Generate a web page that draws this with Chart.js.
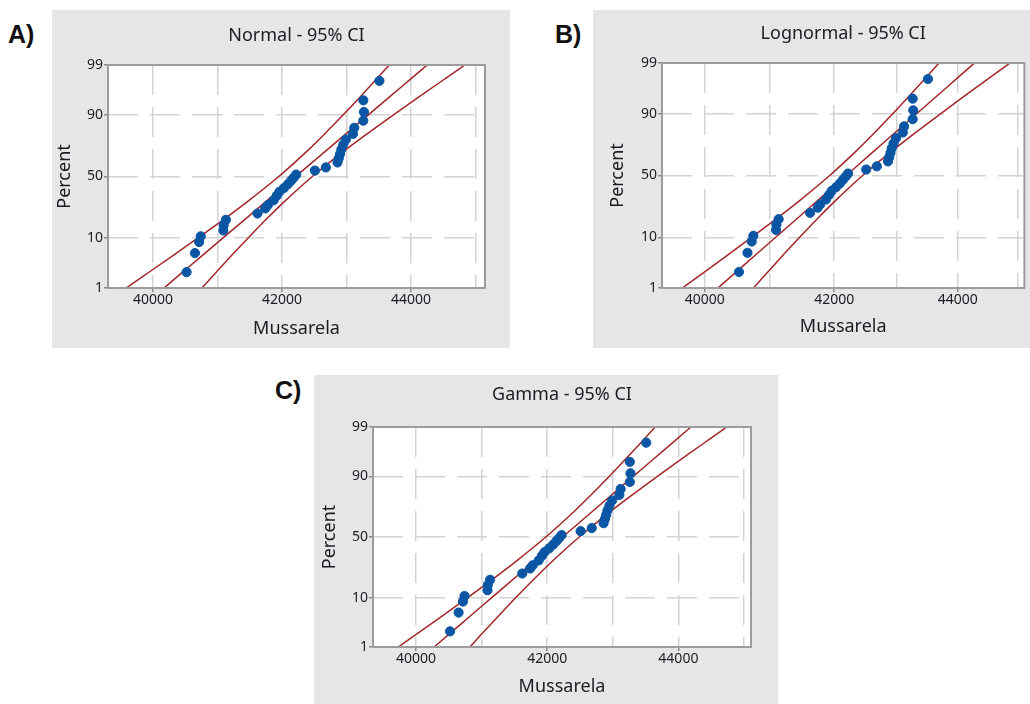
<!DOCTYPE html>
<html>
<head>
<meta charset="utf-8">
<title>Probability plots - Mussarela</title>
<script src="https://cdn.jsdelivr.net/npm/chart.js@4.4.1/dist/chart.umd.min.js"></script>
<style>
  html, body { margin: 0; padding: 0; background: #fff; }
  #page { position: relative; width: 1030px; height: 704px; overflow: hidden; background: #fff; }
  .panel { position: absolute; background: #e6e6e6; }
  .tag { position: absolute; font: bold 25px "Liberation Sans", Arial, sans-serif; line-height: 25px; color: #111; }
</style>
</head>
<body>
<div id="page">
  <div class="tag" style="left:8px;top:22px">A)</div>
  <div class="tag" style="left:555px;top:22px">B)</div>
  <div class="tag" style="left:275px;top:378px">C)</div>
  <div class="panel" style="left:52px;top:10px;width:458px;height:338px"><canvas id="chart-normal"></canvas></div>
  <div class="panel" style="left:593px;top:10px;width:437px;height:338px"><canvas id="chart-lognormal"></canvas></div>
  <div class="panel" style="left:314px;top:375px;width:464px;height:329px"><canvas id="chart-gamma"></canvas></div>
</div>
<script>
// tick values
const xTickValues = [40000, 41000, 42000, 43000, 44000, 45000];
const xTickLabels = ['40000', '', '42000', '', '44000', ''];
const yTickPercents = [1, 10, 50, 90, 99];

// observations (same sample in all three plots)
const mussarela = [40520, 40650, 40715, 40740, 41090, 41095, 41130, 41620, 41740, 41780, 41870, 41920, 41960, 42030, 42090, 42140, 42180, 42220, 42510, 42680, 42860, 42880, 42900, 42920, 42950, 42990, 43100, 43120, 43260, 43270, 43260, 43510];
const percentRank = [2.3, 5.5, 8.6, 10.6, 13.0, 15.5, 18.3, 22.0, 25.3, 27.5, 31.0, 34.5, 37.5, 40.5, 43.5, 46.5, 49.0, 51.6, 54.9, 57.5, 61.5, 64.8, 68.1, 71.4, 74.7, 78.0, 81.3, 84.5, 87.8, 91.1, 94.4, 97.7];

// fitted line + 95% CI, read at these percents
const bandPercents = [1, 2, 5, 10, 20, 30, 50, 70, 80, 90, 95, 98, 99];

const normalFit = [40170, 40409, 40767, 41086, 41472, 41750, 42210, 42670, 42948, 43334, 43653, 44011, 44250];
const normalLeft = [39584, 39877, 40314, 40697, 41150, 41464, 41950, 42384, 42626, 42945, 43200, 43479, 43664];
const normalRight = [40756, 40941, 41220, 41475, 41794, 42036, 42470, 42956, 43270, 43723, 44106, 44543, 44836];

const lognormalFit = [40199, 40428, 40772, 41081, 41459, 41733, 42190, 42652, 42934, 43329, 43657, 44030, 44279];
const lognormalLeft = [39664, 39938, 40348, 40712, 41148, 41452, 41929, 42365, 42611, 42940, 43204, 43497, 43690];
const lognormalRight = [40741, 40924, 41200, 41453, 41773, 42016, 42452, 42941, 43259, 43721, 44115, 44570, 44876];

const gammaFit = [40277, 40505, 40850, 41155, 41526, 41793, 42234, 42675, 42942, 43313, 43618, 43963, 44192];
const gammaLeft = [39732, 40009, 40425, 40787, 41217, 41516, 41979, 42398, 42633, 42945, 43193, 43467, 43647];
const gammaRight = [40822, 41001, 41276, 41523, 41835, 42070, 42489, 42952, 43251, 43681, 44044, 44459, 44737];

const COLORS = {
  point: '#0a56a5',
  line: '#a3262a',
  grid: '#d3d3d3',
  frame: '#9c9c9c',
  text: '#1c1c24'
};
const FONT = '"Noto Sans", "Open Sans", sans-serif';

// inverse normal CDF (Acklam)
function probit(p) {
  const a = [-39.69683028665376, 220.9460984245205, -275.9285104469687, 138.3577518672690, -30.66479806614716, 2.506628277830096];
  const b = [-54.47609879822406, 161.5858368580409, -155.6989798598866, 66.80131188771972, -13.28068155288572];
  const c = [-0.007784894002430293, -0.3223964580411365, -2.400758277161838, -2.549732539343734, 4.374664141464968, 2.938163982698783];
  const d = [0.007784695709041462, 0.3224671290700398, 2.445134137142996, 3.754408661907416];
  const pl = 0.02425;
  if (p < pl) {
    const q = Math.sqrt(-2 * Math.log(p));
    return (((((c[0] * q + c[1]) * q + c[2]) * q + c[3]) * q + c[4]) * q + c[5]) / ((((d[0] * q + d[1]) * q + d[2]) * q + d[3]) * q + 1);
  }
  if (p > 1 - pl) {
    const q = Math.sqrt(-2 * Math.log(1 - p));
    return -(((((c[0] * q + c[1]) * q + c[2]) * q + c[3]) * q + c[4]) * q + c[5]) / ((((d[0] * q + d[1]) * q + d[2]) * q + d[3]) * q + 1);
  }
  const q = p - 0.5, r = q * q;
  return (((((a[0] * r + a[1]) * r + a[2]) * r + a[3]) * r + a[4]) * r + a[5]) * q / (((((b[0] * r + b[1]) * r + b[2]) * r + b[3]) * r + b[4]) * r + 1);
}

// percent axis on a normal-probability scale
class ProbabilityScale extends Chart.LinearScale {
  getPixelForValue(value) {
    const lo = probit(this.min / 100), hi = probit(this.max / 100);
    return this.getPixelForDecimal((probit(value / 100) - lo) / (hi - lo));
  }
  getValueForPixel(pixel) {
    const lo = probit(this.min / 100), hi = probit(this.max / 100);
    const z = lo + this.getDecimalForPixel(pixel) * (hi - lo);
    let a = 0.0001, b = 99.9999;
    for (let i = 0; i < 50; i++) {
      const m = (a + b) / 2;
      if (probit(m / 100) < z) a = m; else b = m;
    }
    return (a + b) / 2;
  }
}
ProbabilityScale.id = 'probability';
ProbabilityScale.defaults = Chart.LinearScale.defaults;
Chart.register(ProbabilityScale);

const plotFrame = {
  id: 'plotFrame',
  beforeDraw(chart) {
    const { ctx, chartArea: a } = chart;
    ctx.save();
    ctx.fillStyle = '#fff';
    ctx.fillRect(a.left, a.top, a.width, a.height);
    ctx.restore();
  },
  afterDraw(chart) {
    const { ctx, chartArea: a } = chart;
    ctx.save();
    ctx.strokeStyle = COLORS.frame;
    ctx.lineWidth = 2;
    ctx.strokeRect(a.left, a.top, a.width, a.height);
    ctx.restore();
  }
};

function toPoints(xs, ys) {
  return xs.map((x, i) => ({ x, y: ys[i] }));
}

function curve(values) {
  return {
    data: toPoints(values, bandPercents),
    showLine: true,
    borderColor: COLORS.line,
    borderWidth: 1.5,
    pointRadius: 0,
    cubicInterpolationMode: 'monotone'
  };
}

function makePanel(canvasId, p) {
  const ctx = document.getElementById(canvasId).getContext('2d');
  return new Chart(ctx, {
    type: 'scatter',
    data: {
      datasets: [
        { data: toPoints(mussarela, percentRank), backgroundColor: COLORS.point, borderColor: COLORS.point, pointRadius: 4.6, pointHoverRadius: 4.6 },
        curve(p.fit),
        curve(p.left),
        curve(p.right)
      ]
    },
    options: {
      responsive: true,
      maintainAspectRatio: false,
      animation: false,
      layout: { padding: { left: 0, top: 0, right: p.padRight, bottom: 0 } },
      plugins: {
        legend: { display: false },
        tooltip: { enabled: false },
        title: {
          display: true,
          fullSize: false,
          text: p.title,
          color: COLORS.text,
          font: { family: FONT, size: 18, weight: 'normal', lineHeight: 1.2 },
          padding: { top: p.titleTop, bottom: p.titleBottom }
        }
      },
      scales: {
        x: {
          type: p.xType,
          min: p.xMin,
          max: p.xMax,
          afterBuildTicks: axis => { axis.ticks = xTickValues.map(v => ({ value: v })); },
          afterFit: axis => { axis.height = p.xAxisHeight; },
          ticks: {
            autoSkip: false,
            maxRotation: 0,
            padding: 0,
            color: COLORS.text,
            font: { family: FONT, size: 14 },
            callback: v => xTickLabels[xTickValues.indexOf(v)] ?? ''
          },
          grid: {
            color: COLORS.grid,
            lineWidth: 1.5,
            tickLength: 4,
            tickColor: c => (c.tick && xTickLabels[xTickValues.indexOf(c.tick.value)]) ? '#8a8a8a' : 'rgba(0,0,0,0)'
          },
          border: { display: false, dash: [30, 12] },
          title: {
            display: true,
            text: 'Mussarela',
            color: COLORS.text,
            font: { family: FONT, size: 18, lineHeight: 1.2 },
            padding: { top: 0, bottom: p.xTitleBottom }
          }
        },
        y: {
          type: 'probability',
          min: 1,
          max: 99,
          afterBuildTicks: axis => { axis.ticks = yTickPercents.map(v => ({ value: v })); },
          afterFit: axis => { axis.width = p.yAxisWidth; },
          ticks: {
            padding: 1,
            color: COLORS.text,
            font: { family: FONT, size: 14 },
            callback: v => String(v)
          },
          grid: { color: COLORS.grid, lineWidth: 1.5, tickLength: 4, tickColor: '#8a8a8a' },
          border: { display: false, dash: [30, 12] },
          title: {
            display: true,
            text: 'Percent',
            color: COLORS.text,
            font: { family: FONT, size: 18, lineHeight: 1.2 },
            padding: { top: p.yTitleTop, bottom: 0 }
          }
        }
      }
    },
    plugins: [plotFrame]
  });
}

makePanel('chart-normal', {
  title: 'Normal - 95% CI', xType: 'linear', xMin: 39302, xMax: 45147,
  fit: normalFit, left: normalLeft, right: normalRight,
  yAxisWidth: 56, padRight: 25, xAxisHeight: 60,
  titleTop: 15.2, titleBottom: 18.2, xTitleBottom: 8.2, yTitleTop: 2.2
});

makePanel('chart-lognormal', {
  title: 'Lognormal - 95% CI', xType: 'logarithmic', xMin: 39362, xMax: 45120,
  fit: lognormalFit, left: lognormalLeft, right: lognormalRight,
  yAxisWidth: 69, padRight: 3, xAxisHeight: 60,
  titleTop: 13.2, titleBottom: 18.2, xTitleBottom: 10.5, yTitleTop: 14.2
});

makePanel('chart-gamma', {
  title: 'Gamma - 95% CI', xType: 'linear', xMin: 39345, xMax: 45107,
  fit: gammaFit, left: gammaLeft, right: gammaRight,
  yAxisWidth: 59, padRight: 27, xAxisHeight: 57,
  titleTop: 9.2, titleBottom: 21.2, xTitleBottom: 6.5, yTitleTop: 5.2
});
</script>
</body>
</html>
